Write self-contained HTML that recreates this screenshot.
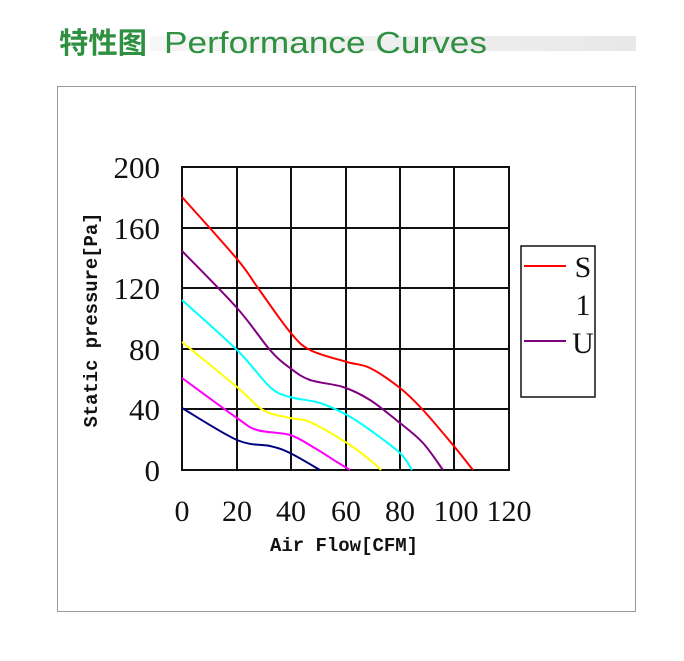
<!DOCTYPE html>
<html><head><meta charset="utf-8"><style>
html,body{margin:0;padding:0;background:#fff;}
</style></head><body>
<svg id="s" width="684" height="656" viewBox="0 0 684 656" xmlns="http://www.w3.org/2000/svg">
<defs><linearGradient id="g" x1="0" x2="1"><stop offset="0" stop-color="#f6f6f6"/><stop offset="1" stop-color="#e8e8e8"/></linearGradient></defs>
<rect x="150" y="36" width="486" height="15" fill="url(#g)"/>
<text x="59" y="53" font-family="Liberation Sans, Noto Sans CJK SC, sans-serif" font-size="29" fill="#2e9040" font-weight="bold" textLength="88" lengthAdjust="spacingAndGlyphs">特性图</text>
<text x="164" y="53" font-family="Liberation Sans, sans-serif" font-size="31" fill="#2e9040" textLength="323" lengthAdjust="spacingAndGlyphs">Performance Curves</text>
<rect x="57.5" y="86.5" width="578" height="525" fill="none" stroke="#999" stroke-width="1"/>
<g stroke="#111" stroke-width="2" fill="none">
<rect x="182" y="167" width="327" height="303"/>
<line x1="237" y1="167" x2="237" y2="470"/><line x1="291" y1="167" x2="291" y2="470"/>
<line x1="346" y1="167" x2="346" y2="470"/><line x1="400" y1="167" x2="400" y2="470"/>
<line x1="454" y1="167" x2="454" y2="470"/>
<line x1="182" y1="228" x2="509" y2="228"/><line x1="182" y1="288" x2="509" y2="288"/>
<line x1="182" y1="349" x2="509" y2="349"/><line x1="182" y1="409" x2="509" y2="409"/>
</g>
<g id="curves" fill="none" stroke-width="2" stroke-linejoin="round">
<polyline stroke="#ff0000" points="182,197 237,259 258,288 290,332 310,350 347,362 370,368 400,388 423,410 453,445 473,470"/>
<polyline stroke="#800080" points="182,251 237,308 270,350 290,368 310,380 343,387 370,400 400,423 423,443 443,470"/>
<polyline stroke="#00ffff" points="182,300 237,350 270,387 290,397 320,403 347,415 370,430 400,453 412,470"/>
<polyline stroke="#ffff00" points="182,342 237,387 263,410 290,418 310,422 347,443 370,460 381,470"/>
<polyline stroke="#ff00ff" points="182,378 237,418 257,430 290,435 313,447 337,462 350,470"/>
<polyline stroke="#000080" points="182,408 237,440 270,446 290,453 320,470"/>
</g>
<g font-family="Liberation Serif, serif" font-size="31" fill="#111" text-anchor="end">
<text x="160" y="178">200</text><text x="160" y="239">160</text><text x="160" y="299">120</text>
<text x="160" y="360">80</text><text x="160" y="420">40</text><text x="160" y="481">0</text>
</g>
<g font-family="Liberation Serif, serif" font-size="30" fill="#111" text-anchor="middle">
<text x="182" y="521">0</text><text x="237" y="521">20</text><text x="291" y="521">40</text>
<text x="346" y="521">60</text><text x="400" y="521">80</text><text x="456" y="521">100</text><text x="509" y="521">120</text>
</g>
<text x="344" y="551" text-anchor="middle" font-family="Liberation Mono, monospace" font-weight="bold" font-size="19" fill="#111" textLength="148" lengthAdjust="spacingAndGlyphs">Air Flow[CFM]</text>
<text transform="translate(97,320) rotate(-90)" text-anchor="middle" font-family="Liberation Mono, monospace" font-weight="bold" font-size="19" fill="#111" textLength="215" lengthAdjust="spacingAndGlyphs">Static pressure[Pa]</text>
<rect x="521" y="246" width="74" height="151" fill="#fff" stroke="#111" stroke-width="1.5"/>
<line x1="524" y1="266" x2="566" y2="266" stroke="#ff0000" stroke-width="2"/>
<line x1="524" y1="341" x2="566" y2="341" stroke="#800080" stroke-width="2"/>
<g font-family="Liberation Serif, serif" font-size="30" fill="#111" text-anchor="middle">
<text x="583" y="277">S</text><text x="583" y="315">1</text><text x="583" y="353">U</text>
</g>
</svg>
<script>
document.querySelectorAll('#curves polyline').forEach(function(pl){
  var p=pl.getAttribute('points').trim().split(/\s+/).map(function(s){return s.split(',').map(Number);});
  var d='M'+p[0][0]+','+p[0][1];
  for(var i=0;i<p.length-1;i++){
    var p0=p[i-1]||p[i],p1=p[i],p2=p[i+1],p3=p[i+2]||p2;
    var c1=[p1[0]+(p2[0]-p0[0])/6,p1[1]+(p2[1]-p0[1])/6];
    var c2=[p2[0]-(p3[0]-p1[0])/6,p2[1]-(p3[1]-p1[1])/6];
    d+=' C'+c1.join(',')+' '+c2.join(',')+' '+p2.join(',');
  }
  var path=document.createElementNS('http://www.w3.org/2000/svg','path');
  path.setAttribute('d',d);path.setAttribute('stroke',pl.getAttribute('stroke'));
  pl.parentNode.replaceChild(path,pl);
});
</script>
</body></html>
